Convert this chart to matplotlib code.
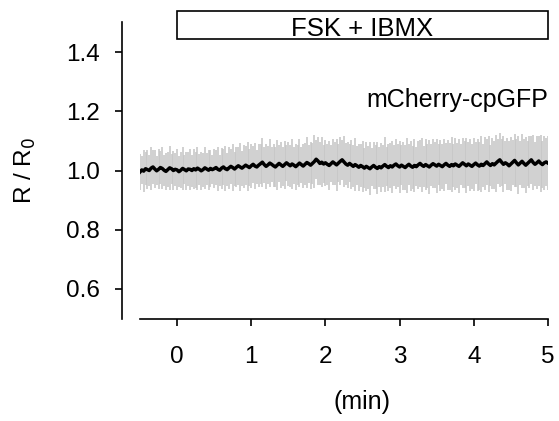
import numpy as np
import matplotlib
matplotlib.use('Agg')
import matplotlib.pyplot as plt
from matplotlib.patches import Rectangle

plt.rcParams['font.family'] = ['Liberation Sans', 'DejaVu Sans']

# time axis, one frame every 1.5 s
t = np.arange(221) * 0.025 - 0.5

# mean R / R0
r_mean = [
    0.995, 1.002, 0.998, 1.006, 1.003, 1.000, 1.008, 1.012, 1.005, 0.999,
    1.004, 1.010, 1.007, 1.001, 0.997, 1.003, 1.009, 1.006, 1.000, 1.004,
    1.002, 0.996, 1.001, 1.007, 1.003, 0.999, 1.005, 1.004, 1.000, 1.006,
    1.002, 1.008, 1.004, 0.999, 1.003, 1.009, 1.005, 1.001, 1.007, 1.003,
    1.006, 1.010, 1.004, 1.001, 1.008, 1.012, 1.006, 1.003, 1.009, 1.014,
    1.010, 1.005, 1.011, 1.016, 1.012, 1.008, 1.013, 1.018, 1.014, 1.010,
    1.016, 1.021, 1.015, 1.012, 1.018, 1.023, 1.028, 1.020, 1.014, 1.019,
    1.025, 1.021, 1.016, 1.012, 1.018, 1.024, 1.019, 1.014, 1.020, 1.026,
    1.021, 1.016, 1.022, 1.018, 1.013, 1.019, 1.025, 1.020, 1.015, 1.021,
    1.027, 1.023, 1.018, 1.024, 1.030, 1.038, 1.032, 1.024, 1.028, 1.022,
    1.026, 1.021, 1.017, 1.023, 1.029, 1.024, 1.019, 1.025, 1.031, 1.036,
    1.029, 1.022, 1.018, 1.024, 1.019, 1.014, 1.020, 1.016, 1.011, 1.017,
    1.013, 1.008, 1.014, 1.010, 1.006, 1.012, 1.017, 1.011, 1.007, 1.013,
    1.009, 1.015, 1.020, 1.014, 1.010, 1.016, 1.012, 1.018, 1.022, 1.016,
    1.012, 1.018, 1.014, 1.010, 1.016, 1.021, 1.015, 1.011, 1.017, 1.013,
    1.019, 1.024, 1.018, 1.014, 1.020, 1.016, 1.012, 1.018, 1.023, 1.019,
    1.015, 1.021, 1.017, 1.013, 1.019, 1.024, 1.018, 1.014, 1.020, 1.016,
    1.022, 1.018, 1.014, 1.020, 1.026, 1.021, 1.016, 1.022, 1.018, 1.014,
    1.020, 1.025, 1.019, 1.015, 1.021, 1.017, 1.023, 1.029, 1.022, 1.017,
    1.023, 1.019, 1.025, 1.031, 1.036, 1.028, 1.021, 1.026, 1.022, 1.016,
    1.022, 1.028, 1.034, 1.026, 1.019, 1.025, 1.031, 1.024, 1.018, 1.024,
    1.030, 1.036, 1.027, 1.021, 1.026, 1.032, 1.025, 1.020, 1.026, 1.029,
    1.025,
]

# error bar half-heights
r_err = [
    0.062, 0.048, 0.070, 0.055, 0.066, 0.051, 0.073, 0.058, 0.064, 0.049,
    0.068, 0.057, 0.071, 0.052, 0.063, 0.060, 0.074, 0.050, 0.066, 0.056,
    0.069, 0.053, 0.061, 0.072, 0.050, 0.065, 0.058, 0.070, 0.054, 0.067,
    0.060, 0.073, 0.052, 0.064, 0.057, 0.071, 0.055, 0.068, 0.061, 0.050,
    0.066, 0.058, 0.074, 0.053, 0.069, 0.062, 0.076, 0.056, 0.070, 0.060,
    0.078, 0.057, 0.068, 0.064, 0.080, 0.059, 0.072, 0.066, 0.082, 0.061,
    0.075, 0.063, 0.079, 0.058, 0.072, 0.068, 0.083, 0.061, 0.076, 0.065,
    0.080, 0.059, 0.073, 0.069, 0.085, 0.062, 0.077, 0.066, 0.081, 0.060,
    0.074, 0.070, 0.084, 0.063, 0.078, 0.067, 0.082, 0.061, 0.075, 0.071,
    0.087, 0.064, 0.079, 0.068, 0.090, 0.066, 0.080, 0.072, 0.085, 0.063,
    0.077, 0.069, 0.084, 0.062, 0.079, 0.073, 0.088, 0.065, 0.081, 0.067,
    0.086, 0.070, 0.078, 0.064, 0.083, 0.071, 0.089, 0.066, 0.080, 0.074,
    0.085, 0.067, 0.082, 0.072, 0.090, 0.065, 0.079, 0.075, 0.088, 0.068,
    0.083, 0.070, 0.092, 0.066, 0.080, 0.076, 0.087, 0.069, 0.084, 0.073,
    0.089, 0.068, 0.081, 0.077, 0.093, 0.070, 0.085, 0.072, 0.088, 0.066,
    0.082, 0.079, 0.091, 0.069, 0.086, 0.074, 0.090, 0.071, 0.083, 0.078,
    0.092, 0.070, 0.086, 0.075, 0.089, 0.068, 0.084, 0.080, 0.094, 0.072,
    0.087, 0.076, 0.091, 0.069, 0.085, 0.079, 0.093, 0.073, 0.088, 0.077,
    0.090, 0.071, 0.087, 0.081, 0.095, 0.074, 0.089, 0.078, 0.093, 0.070,
    0.086, 0.082, 0.096, 0.075, 0.090, 0.079, 0.094, 0.072, 0.088, 0.083,
    0.092, 0.076, 0.089, 0.080, 0.097, 0.073, 0.091, 0.084, 0.095, 0.077,
    0.088, 0.081, 0.094, 0.074, 0.090, 0.085, 0.096, 0.078, 0.092, 0.082,
    0.090,
]

r_mean = np.array(r_mean)
r_err = np.array(r_err)

fig = plt.figure(figsize=(5.59, 4.21), dpi=100)
ax = fig.add_axes([0.2504, 0.2432, 0.7299, 0.7036])

ax.vlines(t, r_mean - r_err, r_mean + r_err, color='#c6c6c6', lw=1.15)
ax.plot(t, r_mean, 'k-', lw=2.5)

# stimulus bar
ax.add_patch(Rectangle((0, 1.444), 5, 0.094, fill=False, ec='k', lw=1.2,
                       clip_on=False))
ax.text(2.5, 1.455, 'FSK + IBMX', ha='center', va='baseline', fontsize=18.5)
ax.text(5.0, 1.214, 'mCherry-cpGFP', ha='right', va='baseline', fontsize=18)

ax.set_xlim(-0.5, 5.0)
ax.set_ylim(0.5, 1.5)
ax.set_xticks([0, 1, 2, 3, 4, 5])
ax.set_yticks([0.6, 0.8, 1.0, 1.2, 1.4])
ax.set_yticklabels(['0.6', '0.8', '1.0', '1.2', '1.4'])

for s in ['top', 'right']:
    ax.spines[s].set_visible(False)
ax.spines['left'].set_position(('outward', 13))
ax.spines['left'].set_linewidth(1.2)
ax.spines['bottom'].set_linewidth(1.2)
ax.tick_params(labelsize=17.5, width=1.2, length=5)
ax.tick_params(axis='y', pad=11)
ax.tick_params(axis='x', pad=15)

ax.set_ylabel('R / R$_0$', fontsize=17.5)
ax.yaxis.set_label_coords(-0.25, 0.5)
ax.set_xlabel('(min)', fontsize=18)
ax.xaxis.set_label_coords(0.545, -0.241)

fig.savefig('out.png', dpi=100)
